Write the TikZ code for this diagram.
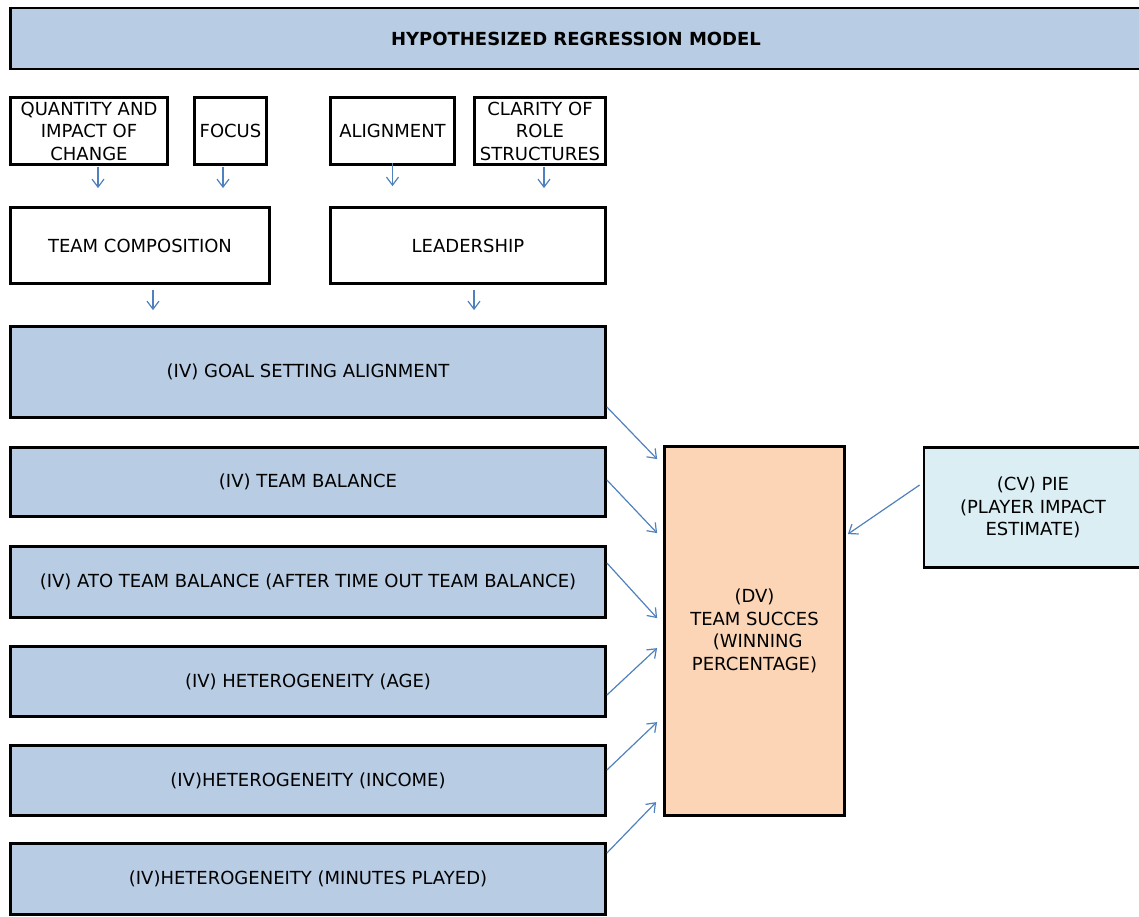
\documentclass[tikz,border=0pt]{standalone}
\usepackage{fontspec}
\setmainfont{DejaVu Sans}
\usepackage{tikz}
\usetikzlibrary{positioning, arrows.meta, shapes}
\definecolor{azulclaro}{RGB}{184, 204, 228}
\definecolor{durazno}{RGB}{251, 213, 181}
\definecolor{celeste}{RGB}{219, 238, 243}
\definecolor{flecha}{RGB}{79, 129, 189}
\tikzset{
    box/.style={draw, rectangle, line width=2.8pt, align=center, inner sep=2pt, font=\fontsize{18}{22.5}\selectfont},
    headbox/.style={box, fill=azulclaro, font=\fontsize{18}{22.5}\selectfont\bfseries},
    wbox/.style={box, fill=white},
    ivbox/.style={box, fill=azulclaro, minimum width=595pt},
    dvbox/.style={box, fill=durazno},
    cvbox/.style={box, fill=celeste},
    conn/.style={-{Straight Barb[length=8pt, width=12pt]}, flecha, line width=1.2pt},
}

\begin{document}
\begin{tikzpicture}[x=1pt, y=-1pt]
        \useasboundingbox (0,0) rectangle (1139,916);

        \node [headbox, minimum width=1131pt, minimum height=61pt] (head) at (576,38.5) {HYPOTHESIZED REGRESSION MODEL};

        \node [wbox, minimum width=157pt, minimum height=67pt] (qty) at (89,131) {QUANTITY AND\\IMPACT OF\\CHANGE};
        \node [wbox, minimum width=72pt, minimum height=67pt] (focus) at (230.5,131) {FOCUS};
        \node [wbox, minimum width=124pt, minimum height=67pt] (align) at (392.5,131) {ALIGNMENT};
        \node [wbox, minimum width=131pt, minimum height=67pt] (clar) at (540,131) {CLARITY OF\\ROLE\\STRUCTURES};

        \node [wbox, minimum width=259pt, minimum height=76pt] (tc) at (140,245.5) {TEAM COMPOSITION};
        \node [wbox, minimum width=275pt, minimum height=76pt] (lead) at (468,245.5) {LEADERSHIP};

        \node [ivbox, minimum height=91pt] (goal) at (308,372) {(IV) GOAL SETTING ALIGNMENT};
        \node [ivbox, minimum height=69pt] (bal) at (308,482) {(IV) TEAM BALANCE};
        \node [ivbox, minimum height=71pt] (ato) at (308,582) {(IV) ATO TEAM BALANCE (AFTER TIME OUT TEAM BALANCE)};
        \node [ivbox, minimum height=70pt] (age) at (308,681.5) {(IV) HETEROGENEITY (AGE)};
        \node [ivbox, minimum height=70pt] (inc) at (308,780.5) {(IV)HETEROGENEITY (INCOME)};
        \node [ivbox, minimum height=71pt] (mins) at (308,879) {(IV)HETEROGENEITY (MINUTES PLAYED)};

        \node [dvbox, minimum width=180pt, minimum height=369pt] (dv) at (754.5,631) {(DV)\\TEAM SUCCES\\\hspace*{0.35em}(WINNING\\PERCENTAGE)};
        \node [cvbox, minimum width=218pt, minimum height=120pt] (cv) at (1033,507.5) {(CV) PIE\\(PLAYER IMPACT\\ESTIMATE)};

        \draw[conn, shorten <=1pt, shorten >=18pt] ([xshift=9pt]qty.south) -- ([xshift=9pt]qty.south |- tc.north);
        \draw[conn, shorten <=1pt, shorten >=18pt] ([xshift=-7.5pt]focus.south) -- ([xshift=-7.5pt]focus.south |- tc.north);
        \draw[conn, shorten <=-3pt, shorten >=20pt] (align.south) -- (align.south |- lead.north);
        \draw[conn, shorten <=1pt, shorten >=18pt] ([xshift=4pt]clar.south) -- ([xshift=4pt]clar.south |- lead.north);

        \draw[conn, shorten <=5pt, shorten >=15pt] ([xshift=13pt]tc.south) -- ([xshift=13pt]tc.south |- goal.north);
        \draw[conn, shorten <=5pt, shorten >=15pt] ([xshift=6pt]lead.south) -- ([xshift=6pt]lead.south |- goal.north);

        \draw[conn] ([yshift=-35pt]goal.east) -- ([xshift=-6pt, yshift=-14pt]dv.north west);
        \draw[conn] ([yshift=2pt]bal.east) -- ([xshift=-6pt, yshift=-88pt]dv.north west);
        \draw[conn] ([yshift=19pt]ato.east) -- ([xshift=-6pt, yshift=-173pt]dv.north west);
        \draw[conn] ([yshift=-13.5pt]age.east) -- ([xshift=-6pt, yshift=-203pt]dv.north west);
        \draw[conn] ([yshift=10.5pt]inc.east) -- ([xshift=-6pt, yshift=-277pt]dv.north west);
        \draw[conn] ([yshift=26pt]mins.east) -- ([xshift=-7pt, yshift=-357pt]dv.north west);

        \draw[conn] ([xshift=-3pt, yshift=22.5pt]cv.west) -- ([xshift=2pt, yshift=-89pt]dv.north east);
\end{tikzpicture}
\end{document}
